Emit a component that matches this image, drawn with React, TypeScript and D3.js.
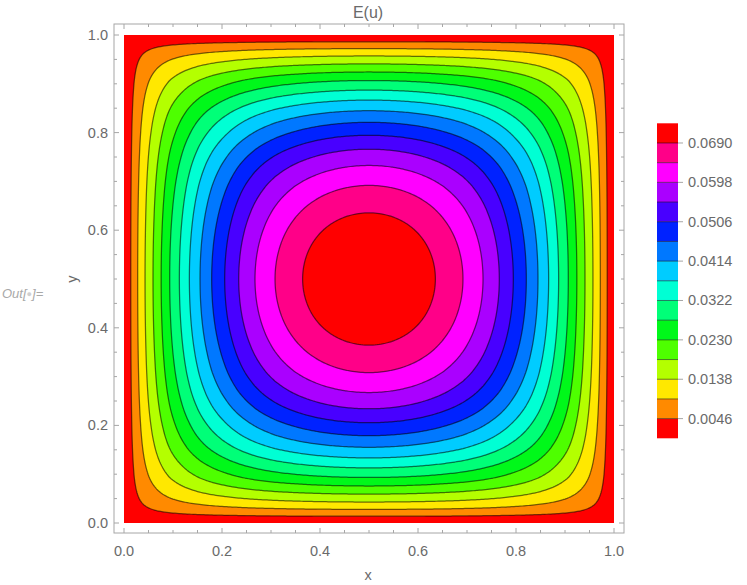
import React from 'react';
import * as d3 from 'd3';

// contour levels (same as legend steps)
const levels = [0.0046, 0.0092, 0.0138, 0.0184, 0.0230, 0.0276, 0.0322, 0.0368, 0.0414, 0.0460, 0.0506, 0.0552, 0.0598, 0.0644, 0.0690];
// x where each level crosses the mid line y = 0.5 (left half)
const crossX = [0.0139, 0.0279, 0.0429, 0.0592, 0.0758, 0.0932, 0.1130, 0.1334, 0.1551, 0.1789, 0.2055, 0.2341, 0.2673, 0.3082, 0.3645];
const peakValue = 0.0736; // value at (0.5, 0.5), top of legend
const cornerShape = 0.42; // how square the corners of the contours are

// band colours, lowest band first
const bandColors = ['#ff0000', '#ff8a00', '#ffe800', '#b4ff00', '#4eff00', '#00f81a', '#00ff78', '#00ffd4',
  '#00ccff', '#0078ff', '#0022ff', '#4800ff', '#aa00ff', '#ff00ff', '#ff0088', '#ff0000'];
const legendTicks = [0.0046, 0.0138, 0.0230, 0.0322, 0.0414, 0.0506, 0.0598, 0.0690];
const axisTicks = [0, 0.2, 0.4, 0.6, 0.8, 1.0];
const minorTicks = [0.05, 0.1, 0.15, 0.25, 0.3, 0.35, 0.45, 0.5, 0.55, 0.65, 0.7, 0.75, 0.85, 0.9, 0.95];

const W = 747, H = 585;
const frame = { left: 114, right: 624, top: 24, bottom: 533 };
const font = '"Liberation Sans", Arial, sans-serif';
const grey = '#6a6a6a';

const x = d3.scaleLinear().domain([0, 1]).range([124, 614]);
const y = d3.scaleLinear().domain([0, 1]).range([523, 35]);

// profile along the mid line, interpolated in squared distance from centre
const sKnots = [0, ...crossX.slice().reverse().map(c => (0.5 - c) ** 2), 0.25];
const vKnots = [peakValue, ...levels.slice().reverse(), 0];
const profile = d3.scaleLinear().domain(sKnots).range(vKnots).clamp(true);

function field(px: number, py: number) {
  const a = profile((px - 0.5) ** 2) / peakValue;
  const b = profile((py - 0.5) ** 2) / peakValue;
  if (a <= 0 || b <= 0) return 0;
  const p = cornerShape;
  return peakValue * Math.pow(Math.pow(a, -p) + Math.pow(b, -p) - 1, -1 / p);
}

const N = 241;
const values = new Array(N * N);
for (let j = 0; j < N; j++) {
  for (let i = 0; i < N; i++) values[j * N + i] = field(i / (N - 1), j / (N - 1));
}
const contours = d3.contours().size([N, N]).thresholds(levels)(values);
const path = d3.geoPath(d3.geoTransform({
  point(gx: number, gy: number) {
    this.stream.point(x((gx - 0.5) / (N - 1)), y((gy - 0.5) / (N - 1)));
  }
}));

const legendY = d3.scaleLinear().domain([0, peakValue]).range([438.3, 123.3]);
const legendBounds = [0, ...levels, peakValue];

export default function App() {
  return (
    <svg width={W} height={H} style={{ position: 'absolute', left: 0, top: 0, background: '#fff' }} fontFamily={font}>
      <text x={368} y={18} textAnchor="middle" fontSize={16} fill={grey}>E(u)</text>

      {/* filled bands */}
      <rect x={x(0)} y={y(1)} width={x(1) - x(0)} height={y(0) - y(1)} fill={bandColors[0]} />
      {contours.map((c, i) => (
        <path key={'f' + i} d={path(c as any) || ''} fill={bandColors[i + 1]} />
      ))}
      {contours.map((c, i) => (
        <path key={'l' + i} d={path(c as any) || ''} fill="none" stroke="#000" strokeOpacity={0.55} strokeWidth={1.25} />
      ))}

      {/* frame */}
      <rect x={frame.left} y={frame.top} width={frame.right - frame.left} height={frame.bottom - frame.top}
        fill="none" stroke="#a6a6a6" strokeWidth={1} />
      {[...axisTicks.map(t => [t, 5]), ...minorTicks.map(t => [t, 3])].map(([t, len], i) => (
        <g key={'t' + i} stroke="#a6a6a6" strokeWidth={1}>
          <line x1={x(t)} x2={x(t)} y1={frame.bottom} y2={frame.bottom - len} />
          <line x1={x(t)} x2={x(t)} y1={frame.top} y2={frame.top + len} />
          <line y1={y(t)} y2={y(t)} x1={frame.left} x2={frame.left + len} />
          <line y1={y(t)} y2={y(t)} x1={frame.right} x2={frame.right - len} />
        </g>
      ))}
      {axisTicks.map(t => (
        <text key={'xl' + t} x={x(t)} y={556} textAnchor="middle" fontSize={14.5} fill={grey}>{t.toFixed(1)}</text>
      ))}
      {axisTicks.map(t => (
        <text key={'yl' + t} x={108} y={y(t) + 5} textAnchor="end" fontSize={14.5} fill={grey}>{t.toFixed(1)}</text>
      ))}
      <text x={368} y={580} textAnchor="middle" fontSize={14.5} fill={grey}>x</text>
      <text transform="translate(77,279) rotate(-90)" textAnchor="middle" fontSize={14.5} fill={grey}>y</text>

      <text x={2} y={298} fontSize={13} fontStyle="italic" fill="#a8a8a8">
        Out[<tspan fill="#d0d0d0" fontSize={9} dy={-1}>●</tspan><tspan dy={1}>]=</tspan>
      </text>

      {/* legend */}
      {bandColors.map((c, i) => (
        <rect key={'lb' + i} x={657} width={21} y={legendY(legendBounds[i + 1])}
          height={legendY(legendBounds[i]) - legendY(legendBounds[i + 1])} fill={c} />
      ))}
      {levels.map((v, i) => (
        <line key={'ls' + i} x1={657} x2={678} y1={legendY(v)} y2={legendY(v)} stroke="#000" strokeOpacity={0.5} strokeWidth={1} />
      ))}
      {legendTicks.map(v => (
        <g key={'lt' + v}>
          <line x1={678} x2={683} y1={legendY(v)} y2={legendY(v)} stroke="#a6a6a6" />
          <text x={688} y={legendY(v) + 5} fontSize={14.5} fill={grey}>{v.toFixed(4)}</text>
        </g>
      ))}
    </svg>
  );
}
